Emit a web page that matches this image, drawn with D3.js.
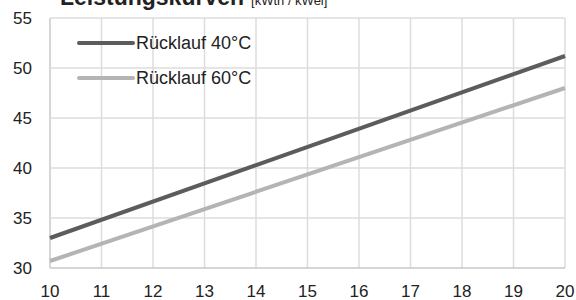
<!DOCTYPE html>
<html>
<head>
<meta charset="utf-8">
<script src="https://d3js.org/d3.v7.min.js"></script>
<style>
  body { margin: 0; background: #fff; }
  text { font-family: 'Liberation Sans', Arial, sans-serif; fill: #222; }
</style>
</head>
<body>
<script>
// data
var xValues = [10, 20];
var ruecklauf40 = [33.0, 51.2];
var ruecklauf60 = [30.7, 48.0];
var seriesNames = ['Rücklauf 40°C', 'Rücklauf 60°C'];
var xTicks = [10, 11, 12, 13, 14, 15, 16, 17, 18, 19, 20];
var yTicks = [30, 35, 40, 45, 50, 55];

var width = 576, height = 300;
var svg = d3.select('body').append('svg')
  .attr('width', width).attr('height', height);

var x = d3.scaleLinear().domain([10, 20]).range([50, 565]);
var y = d3.scaleLinear().domain([30, 55]).range([268, 18]);

// grid
svg.append('g').selectAll('line').data(xTicks).enter().append('line')
  .attr('x1', d => x(d)).attr('x2', d => x(d))
  .attr('y1', y(55)).attr('y2', y(30))
  .attr('stroke', d => d === 10 ? '#c8c8c8' : '#dcdcdc').attr('stroke-width', 1.5);
svg.append('g').selectAll('line').data(yTicks).enter().append('line')
  .attr('x1', x(10)).attr('x2', x(20))
  .attr('y1', d => y(d)).attr('y2', d => y(d))
  .attr('stroke', d => d === 30 ? '#c8c8c8' : '#dcdcdc').attr('stroke-width', 1.5);

// tick labels
svg.append('g').selectAll('text').data(yTicks).enter().append('text')
  .attr('x', 32).attr('y', d => y(d) + 6)
  .attr('text-anchor', 'end').style('font-size', '17px')
  .text(d => d);
svg.append('g').selectAll('text').data(xTicks).enter().append('text')
  .attr('x', d => x(d)).attr('y', 297)
  .attr('text-anchor', 'middle').style('font-size', '17px')
  .text(d => d);

// lines
var colors = ['#5c5c5c', '#b4b4b4'];
var series = [ruecklauf40, ruecklauf60];
var line = d3.line().x((d, i) => x(xValues[i])).y(d => y(d));
series.forEach(function(s, k) {
  svg.append('path').datum(s)
    .attr('d', line)
    .attr('fill', 'none')
    .attr('stroke', colors[k])
    .attr('stroke-width', 4);
});

// legend
var legY = [43, 78];
seriesNames.forEach(function(name, k) {
  svg.append('line')
    .attr('x1', 79).attr('x2', 133)
    .attr('y1', legY[k]).attr('y2', legY[k])
    .attr('stroke', colors[k]).attr('stroke-width', 4)
    .attr('stroke-linecap', 'round');
  svg.append('text')
    .attr('x', 136).attr('y', legY[k] + 6)
    .style('font-size', '18px')
    .text(name);
});

// title (cut off at the top, as in the original)
var title = svg.append('text').attr('x', 60).attr('y', 5);
title.append('tspan').style('font-size', '23px').style('font-weight', 'bold').text('Leistungskurven');
title.append('tspan').style('font-size', '13px').attr('dx', 7).text('[kWth / kWel]');
</script>
</body>
</html>
